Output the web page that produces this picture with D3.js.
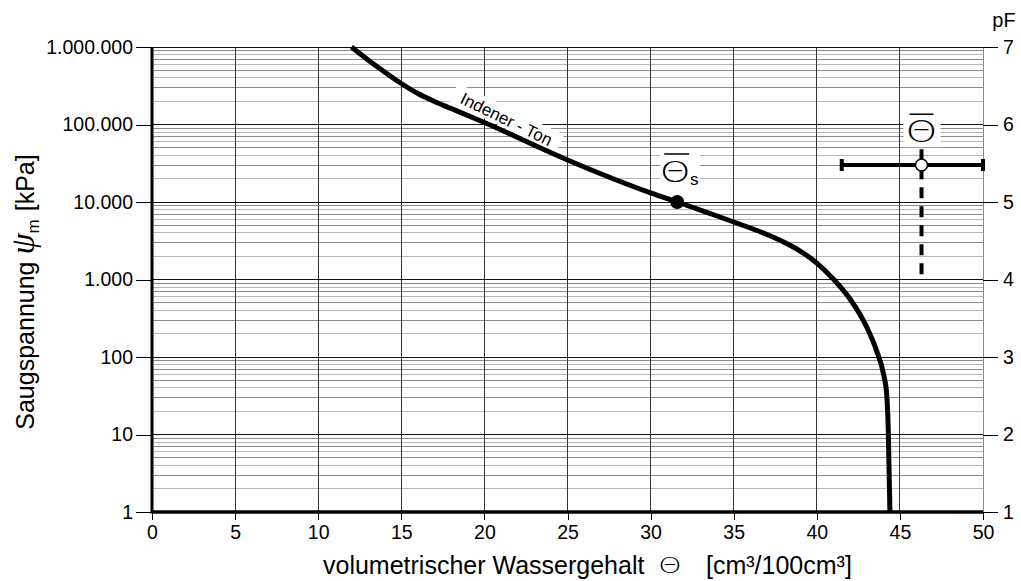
<!DOCTYPE html>
<html>
<head>
<meta charset="utf-8">
<script src="https://cdn.jsdelivr.net/npm/d3@7"></script>
<style>
  body { margin: 0; background: #fff; }
  svg { display: block; }
</style>
</head>
<body>
<svg id="chart" width="1021" height="581"></svg>
<script>
// Retention curve of Indener clay: water content (vol-%) vs. matric suction (kPa)
const curveTheta = [12, 13, 14, 15, 16, 17, 18, 20, 25, 30, 31.6, 33, 35, 36, 37, 38, 39, 40, 41, 42, 43, 43.6, 44.0, 44.2, 44.3, 44.4];
const curvePsi   = [1e6, 6.8e5, 4.75e5, 3.38e5, 2.51e5, 1.98e5, 1.61e5, 1.06e5, 3.48e4, 1.31e4, 1e4, 7880, 5520, 4620, 3810, 3050, 2330, 1630, 1010, 560, 244, 120, 62, 34, 11.4, 1];

// Saturated water content marker on the curve
const satTheta = [31.6];
const satPsi = [1e4];

// Mean water content with its range (horizontal) and suction range (vertical)
const meanTheta = [46.3];
const meanPsi = [3e4];
const meanThetaRange = [41.5, 50];
const meanPsiRange = [1050, 48000];

// Axis ticks
const xTicks = [0, 5, 10, 15, 20, 25, 30, 35, 40, 45, 50];
const yTicks = [1, 10, 100, 1000, 10000, 100000, 1000000];
const yTickLabels = ["1", "10", "100", "1.000", "10.000", "100.000", "1.000.000"];
const pfTicks = [1, 2, 3, 4, 5, 6, 7];

const svg = d3.select("#chart");
const plotL = 152, plotR = 983, plotT = 47, plotB = 512;

const x = d3.scaleLinear().domain([0, 50]).range([plotL, plotR]);
const y = d3.scaleLog().domain([1, 1e6]).range([plotB, plotT]);
const pf = d3.scaleLinear().domain([1, 7]).range([plotB, plotT]);

const FONT = "'Liberation Sans', Arial, sans-serif";
const THETA_FONT = "'DejaVu Sans', sans-serif";

// Θ symbol: thin glyph, widened to a round outline
function theta(parent, cx, baseline, size) {
  return parent.append("text")
    .attr("transform", `translate(${cx},${baseline}) scale(1.35,1)`)
    .attr("text-anchor", "middle")
    .attr("font-family", THETA_FONT).attr("font-weight", 200).attr("font-size", size)
    .attr("fill", "#000")
    .text("Θ");
}

// ---- grid ----
const grid = svg.append("g");
const minor = [];
for (let d = 1; d < 1e6; d *= 10) {
  for (let k = 2; k <= 9; k++) minor.push({ v: k * d, k });
}
grid.selectAll("line.minor").data(minor).join("line")
  .attr("x1", plotL).attr("x2", plotR)
  .attr("y1", d => y(d.v)).attr("y2", d => y(d.v))
  .attr("stroke", d => d.k % 2 ? "#8a8a8a" : "#b8b8b8")
  .attr("stroke-width", 1)
  .attr("shape-rendering", "crispEdges");

grid.selectAll("line.vx").data(xTicks.slice(1)).join("line")
  .attr("x1", d => x(d)).attr("x2", d => x(d))
  .attr("y1", plotT).attr("y2", plotB)
  .attr("stroke", d => d === 50 ? "#888" : "#333")
  .attr("stroke-width", 1)
  .attr("shape-rendering", "crispEdges");

grid.selectAll("line.major").data(yTicks).join("line")
  .attr("x1", plotL).attr("x2", plotR)
  .attr("y1", d => y(d)).attr("y2", d => y(d))
  .attr("stroke", "#111")
  .attr("stroke-width", 1)
  .attr("shape-rendering", "crispEdges");

// ---- axes ----
function styleAxis(g, size) {
  g.select(".domain").remove();
  g.selectAll(".tick line").attr("stroke", "#000").attr("stroke-width", 1).attr("shape-rendering", "crispEdges");
  g.selectAll(".tick text").attr("font-family", FONT).attr("font-size", size).attr("fill", "#000");
}

const yAxis = svg.append("g").attr("transform", `translate(${plotL},0)`)
  .call(d3.axisLeft(y).tickValues(yTicks).tickSize(16).tickPadding(3)
    .tickFormat((d, i) => yTickLabels[i]));
styleAxis(yAxis, 19.5);

const xAxis = svg.append("g").attr("transform", `translate(0,${plotB})`)
  .call(d3.axisBottom(x).tickValues(xTicks).tickSize(8).tickPadding(5).tickFormat(d3.format("d")));
styleAxis(xAxis, 19.5);

const pfAxis = svg.append("g").attr("transform", `translate(${plotR},0)`)
  .call(d3.axisRight(pf).tickValues(pfTicks).tickSize(15).tickPadding(5).tickFormat(d3.format("d")));
styleAxis(pfAxis, 19.5);

svg.append("text").attr("x", 1004).attr("y", 27)
  .attr("text-anchor", "middle")
  .attr("font-family", FONT).attr("font-size", 20).text("pF");

// thick frame lines on the left and bottom
svg.append("line").attr("x1", plotL).attr("x2", plotL).attr("y1", plotT).attr("y2", plotB + 1.5)
  .attr("stroke", "#000").attr("stroke-width", 3);
svg.append("line").attr("x1", plotL).attr("x2", plotR).attr("y1", plotB).attr("y2", plotB)
  .attr("stroke", "#000").attr("stroke-width", 3.5);

// ---- axis titles ----
const xTitle = svg.append("g").attr("font-family", FONT).attr("font-size", 25).attr("fill", "#000");
xTitle.append("text").attr("x", 323).attr("y", 574).text("volumetrischer Wassergehalt");
theta(xTitle, 670, 573, 22);
xTitle.append("text").attr("x", 706).attr("y", 574).text("[cm³/100cm³]");

const yTitle = svg.append("text")
  .attr("transform", "translate(34,292) rotate(-90)")
  .attr("text-anchor", "middle")
  .attr("font-family", FONT).attr("font-size", 25).attr("fill", "#000");
yTitle.append("tspan").text("Saugspannung ");
yTitle.append("tspan").attr("font-family", "'Liberation Serif', serif").attr("font-style", "italic")
  .attr("font-size", 34).text("ψ");
yTitle.append("tspan").attr("font-size", 17).attr("dy", 5).text("m");
yTitle.append("tspan").attr("dy", -5).attr("dx", 8).text("[kPa]");

// ---- curve label ----
const lbl = svg.append("g").attr("transform", "translate(506,120) rotate(26)");
lbl.append("rect").attr("x", -59).attr("y", -12).attr("width", 118).attr("height", 20).attr("fill", "#fff");
lbl.append("text").attr("text-anchor", "middle").attr("y", 5)
  .attr("font-family", FONT).attr("font-size", 17).text("Indener - Ton");

// ---- retention curve ----
const curveData = curveTheta.map((t, i) => [t, curvePsi[i]]);
svg.append("path")
  .datum(curveData)
  .attr("fill", "none").attr("stroke", "#000").attr("stroke-width", 5)
  .attr("d", d3.line().x(d => x(d[0])).y(d => y(d[1])).curve(d3.curveMonotoneX));

// saturated point
const sx = x(satTheta[0]), sy = y(satPsi[0]);
svg.append("rect").attr("x", sx - 17).attr("y", sy - 51).attr("width", 40).attr("height", 39).attr("fill", "#fff");
svg.append("line").attr("x1", sx - 13).attr("x2", sx + 12).attr("y1", sy - 48).attr("y2", sy - 48)
  .attr("stroke", "#000").attr("stroke-width", 1.5);
theta(svg, sx - 2, sy - 20, 29);
svg.append("text").attr("x", sx + 17).attr("y", sy - 17).attr("text-anchor", "middle")
  .attr("font-family", FONT).attr("font-size", 17).text("s");
svg.append("circle").attr("cx", sx).attr("cy", sy).attr("r", 7).attr("fill", "#000");

// ---- mean water content with ranges ----
const mx = x(meanTheta[0]), my = y(meanPsi[0]);
svg.append("rect").attr("x", mx - 18).attr("y", y(meanPsiRange[1]) - 40).attr("width", 37).attr("height", 38).attr("fill", "#fff");
svg.append("line").attr("x1", mx - 12).attr("x2", mx + 12)
  .attr("y1", y(meanPsiRange[1]) - 35).attr("y2", y(meanPsiRange[1]) - 35)
  .attr("stroke", "#000").attr("stroke-width", 1.5);
theta(svg, mx, y(meanPsiRange[1]) - 7, 30);

svg.append("line").attr("x1", mx).attr("x2", mx)
  .attr("y1", y(meanPsiRange[1])).attr("y2", y(meanPsiRange[0]))
  .attr("stroke", "#000").attr("stroke-width", 4).attr("stroke-dasharray", "11,8");
svg.append("line").attr("x1", x(meanThetaRange[0])).attr("x2", x(meanThetaRange[1]))
  .attr("y1", my).attr("y2", my)
  .attr("stroke", "#000").attr("stroke-width", 4);
svg.selectAll("rect.cap").data(meanThetaRange).join("rect")
  .attr("x", d => x(d) - 2).attr("y", my - 6).attr("width", 4).attr("height", 12).attr("fill", "#000");
svg.append("circle").attr("cx", mx).attr("cy", my).attr("r", 6)
  .attr("fill", "#fff").attr("stroke", "#000").attr("stroke-width", 1.5);
</script>
</body>
</html>
